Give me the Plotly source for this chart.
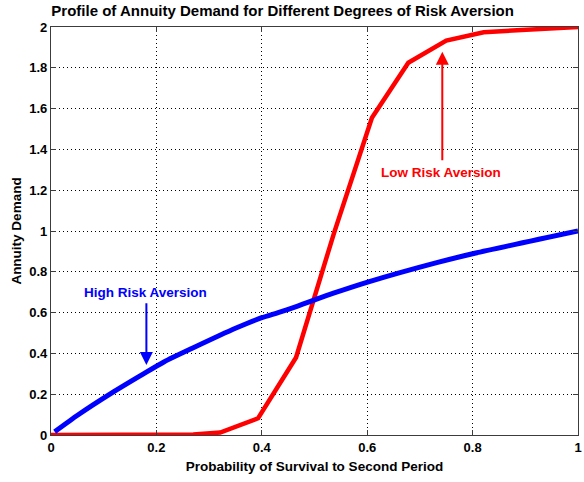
import plotly.graph_objects as go

# Data
low_x = [0.0, 0.1, 0.2, 0.27, 0.321, 0.393, 0.465, 0.537, 0.609, 0.678, 0.75, 0.821, 0.893, 0.964, 1.0]
low_y = [0.0, 0.0, 0.0, 0.002, 0.012, 0.082, 0.38, 0.99, 1.555, 1.825, 1.933, 1.974, 1.985, 1.993, 2.0]

high_x = [0.007, 0.051, 0.114, 0.177, 0.215, 0.268, 0.35, 0.4, 0.431, 0.468, 0.536, 0.604, 0.732, 0.804, 1.0]
high_y = [0.016, 0.098, 0.204, 0.302, 0.359, 0.425, 0.523, 0.575, 0.600, 0.632, 0.695, 0.752, 0.845, 0.891, 1.0]

x_ticks = [0, 0.2, 0.4, 0.6, 0.8, 1]
x_labels = ["0", "0.2", "0.4", "0.6", "0.8", "1"]
y_ticks = [0, 0.2, 0.4, 0.6, 0.8, 1, 1.2, 1.4, 1.6, 1.8, 2]
y_labels = ["0", "0.2", "0.4", "0.6", "0.8", "1", "1.2", "1.4", "1.6", "1.8", "2"]

title_text = "Profile of Annuity Demand for Different Degrees of Risk Aversion"
x_title = "Probability of Survival to Second Period"
y_title = "Annuity Demand"

FONT = "Liberation Sans, Arial, sans-serif"

fig = go.Figure()
fig.add_trace(go.Scatter(x=low_x, y=low_y, mode="lines",
                         line=dict(color="#ff0000", width=4.5), name="Low Risk Aversion"))
fig.add_trace(go.Scatter(x=high_x, y=high_y, mode="lines", line_shape="spline",
                         line=dict(color="#0000ff", width=5, smoothing=0.6), name="High Risk Aversion"))

axis_common = dict(
    showline=True, linecolor="#3c3c3c", linewidth=1.2, mirror="ticks",
    ticks="inside", ticklen=5, tickcolor="#3c3c3c",
    showgrid=True, gridcolor="#000000", gridwidth=1, griddash="1px,3px",
    zeroline=False, ticklabeloverflow="allow",
    tickfont=dict(family=FONT, size=13, color="#000000", weight="bold"),
)

fig.update_layout(
    width=584, height=482,
    margin=dict(l=51, r=2, t=27, b=47),
    paper_bgcolor="white", plot_bgcolor="white",
    showlegend=False,
    title=dict(text=title_text, x=0.484, xanchor="center", y=0.977, yanchor="middle",
               font=dict(family=FONT, size=15, color="#000000", weight="bold")),
    xaxis=dict(range=[0, 1], tickvals=x_ticks, ticktext=x_labels,
               title=dict(text=x_title, standoff=7,
                          font=dict(family=FONT, size=13.5, color="#000000", weight="bold")),
               **axis_common),
    yaxis=dict(range=[0, 2], tickvals=y_ticks, ticktext=y_labels,
               title=dict(text=y_title, standoff=4,
                          font=dict(family=FONT, size=13.5, color="#000000", weight="bold")),
               **axis_common),
)

# Arrows
fig.add_annotation(x=0.181, y=0.343, ax=0.181, ay=0.653, xref="x", yref="y",
                   axref="x", ayref="y", text="", showarrow=True,
                   arrowhead=2, arrowsize=1.3, arrowwidth=2, arrowcolor="#0000ff")
fig.add_annotation(x=0.7425, y=1.879, ax=0.7425, ay=1.34, xref="x", yref="y",
                   axref="x", ayref="y", text="", showarrow=True,
                   arrowhead=2, arrowsize=1.3, arrowwidth=2, arrowcolor="#ff0000")

# Labels
fig.add_annotation(x=0.179, y=0.698, xref="x", yref="y", text="High Risk Aversion",
                   showarrow=False, font=dict(family=FONT, size=13.5, color="#0000ff", weight="bold"))
fig.add_annotation(x=0.74, y=1.286, xref="x", yref="y", text="Low Risk Aversion",
                   showarrow=False, font=dict(family=FONT, size=13.5, color="#ff0000", weight="bold"))

fig.write_html("out.html")
